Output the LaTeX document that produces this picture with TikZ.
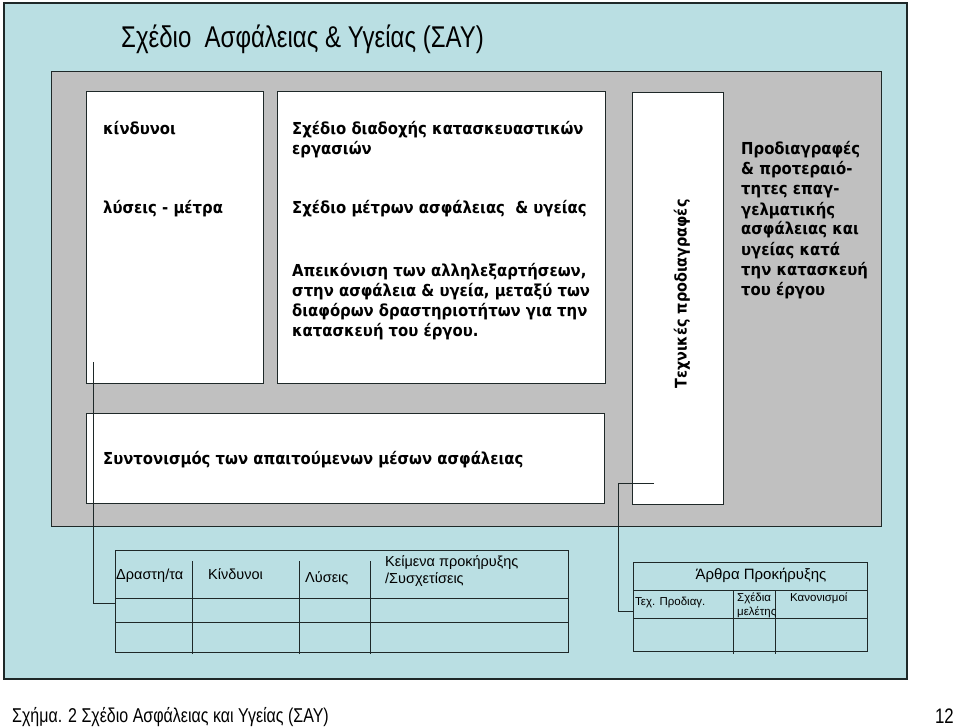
\documentclass[tikz,border=0pt]{standalone}
\usepackage{fontspec}
\setmainfont{Liberation Sans}
\newfontfamily\narrowfont[FakeStretch=0.8]{Liberation Sans}
\newfontfamily\boldfont{DejaVu Sans Condensed Bold}
\definecolor{sayteal}{RGB}{186,223,227}
\definecolor{saygray}{RGB}{192,192,192}
\definecolor{sayline}{RGB}{30,40,40}
\tikzset{
  panel/.style={draw=sayline, line width=1pt, inner sep=0pt, outer sep=0pt, anchor=north west},
  btext/.style={inner sep=0pt, anchor=base west, font=\boldfont\fontsize{16.5}{19}\selectfont, text=black},
  ttext/.style={inner sep=0pt, anchor=base west, font=\fontsize{14.5}{16}\selectfont, text=black},
  stext/.style={inner sep=0pt, anchor=base west, font=\fontsize{11.5}{13}\selectfont, text=black},
  conn/.style={draw=sayline, line width=0.9pt},
  grid/.style={draw=sayline, line width=1pt}
}
\begin{document}
\begin{tikzpicture}[x=1pt,y=-1pt]
\useasboundingbox (0,0) rectangle (960,727);
\fill[white] (0,0) rectangle (960,727);
% frames
\node[panel, fill=sayteal, line width=1.2pt, minimum width=903pt, minimum height=676pt] (outer) at (4,3) {};
\node[panel, fill=saygray, minimum width=830pt, minimum height=454pt] (gray) at (51,72) {};
\node[panel, fill=white, minimum width=177pt, minimum height=291pt] (b1) at (86,92) {};
\node[panel, fill=white, minimum width=328pt, minimum height=291pt] (b2) at (277,92) {};
\node[panel, fill=white, minimum width=91pt, minimum height=411pt] (b3) at (632,93) {};
\node[panel, fill=white, minimum width=518pt, minimum height=90pt] (b4) at (86,413) {};
% title
\node[inner sep=0pt, anchor=base west, font=\narrowfont\fontsize{30}{32}\selectfont] (title) at (121,48) {Σχέδιο\ \ Ασφάλειας \& Υγείας (ΣΑΥ)};
% box 1
\node[btext] (k1) at (103,135) {κίνδυνοι};
\node[btext] (k2) at (103,214) {λύσεις - μέτρα};
% box 2
\node[btext] (s1) at (292,135) {Σχέδιο διαδοχής κατασκευαστικών};
\node[btext] (s2) at (292,155) {εργασιών};
\node[btext] (s3) at (292,214) {Σχέδιο μέτρων ασφάλειας\ \ \& υγείας};
\node[btext] (s4) at (292,276) {Απεικόνιση των αλληλεξαρτήσεων,};
\node[btext] (s5) at (292,296) {στην ασφάλεια \& υγεία, μεταξύ των};
\node[btext] (s6) at (292,316) {διαφόρων δραστηριοτήτων για την};
\node[btext] (s7) at (292,336) {κατασκευή του έργου.};
% box 3
\node[inner sep=0pt, rotate=90, font=\boldfont\fontsize{16}{19}\selectfont] (tech) at (682,294) {Τεχνικές προδιαγραφές};
% right text
\node[btext] (p1) at (741,155) {Προδιαγραφές};
\node[btext] (p2) at (741,175) {\& προτεραιό-};
\node[btext] (p3) at (741,195) {τητες επαγ-};
\node[btext] (p4) at (741,215) {γελματικής};
\node[btext] (p5) at (741,235) {ασφάλειας και};
\node[btext] (p6) at (741,255) {υγείας κατά};
\node[btext] (p7) at (741,275) {την κατασκευή};
\node[btext] (p8) at (741,295) {του έργου};
% box 4
\node[btext] (syn) at (103,464) {Συντονισμός των απαιτούμενων μέσων ασφάλειας};
% left table
\node[panel, minimum width=453pt, minimum height=102pt] (lt) at (115,550) {};
\draw[grid] (115,598) -- (568,598);
\draw[grid] (115,622) -- (568,622);
\draw[grid] (192,561) -- (192,654);
\draw[grid] (299,561) -- (299,654);
\draw[grid] (370,561) -- (370,654);
\node[ttext] (h1) at (116,579) {Δραστη/τα};
\node[ttext] (h2) at (208,579) {Κίνδυνοι};
\node[ttext] (h3) at (305,582) {Λύσεις};
\node[ttext] (h4) at (385,566) {Κείμενα προκήρυξης};
\node[ttext] (h5) at (385,583) {/Συσχετίσεις};
% right table
\node[panel, minimum width=234pt, minimum height=89pt] (rt) at (633,562) {};
\draw[grid] (633,590) -- (867,590);
\draw[grid] (633,618) -- (867,618);
\draw[grid] (733,590) -- (733,654);
\draw[grid] (775,590) -- (775,654);
\node[inner sep=0pt, anchor=base, font=\fontsize{15}{16}\selectfont] (art) at (761,579) {Άρθρα Προκήρυξης};
\node[stext] (r1) at (635,605) {Τεχ. Προδιαγ.};
\node[stext] (r2) at (737,601) {Σχέδια};
\node[stext] (r3) at (737,615) {μελέτης};
\node[stext] (r4) at (790,601) {Κανονισμοί};
% connectors
\coordinate (c1) at (93,362);
\coordinate (c1e) at (115,603);
\draw[conn] (c1) -- (c1 |- c1e) -- (c1e);
\coordinate (c2) at (654,483);
\coordinate (c2m) at (618,483);
\coordinate (c2e) at (633,611);
\draw[conn] (c2) -- (c2m) -- (c2m |- c2e) -- (c2e);
% caption
\node[inner sep=0pt, anchor=base west, font=\narrowfont\fontsize{20}{22}\selectfont] (cap) at (12,722) {Σχήμα. 2 Σχέδιο Ασφάλειας και Υγείας (ΣΑΥ)};
\node[inner sep=0pt, anchor=base east, font=\narrowfont\fontsize{21}{22}\selectfont] (pg) at (954,723) {12};
\end{tikzpicture}
\end{document}
